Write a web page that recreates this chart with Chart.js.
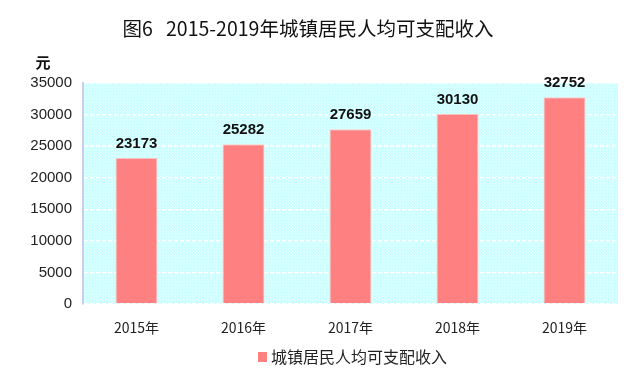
<!DOCTYPE html>
<html>
<head>
<meta charset="utf-8">
<script src="https://cdn.jsdelivr.net/npm/chart.js@4/dist/chart.umd.min.js"></script>
<style>
  html, body { margin: 0; padding: 0; background: #ffffff; }
  #wrap { width: 644px; height: 380px; position: relative; }
</style>
</head>
<body>
<div id="wrap"><canvas id="c" width="644" height="380"></canvas></div>
<script>
const categories = ['2015年', '2016年', '2017年', '2018年', '2019年'];
const incomeValues = [23173, 25282, 27659, 30130, 32752];
const seriesName = '城镇居民人均可支配收入';
const chartTitle = '图6   2015-2019年城镇居民人均可支配收入';
const unitLabel = '元';
const yTicks = [0, 5000, 10000, 15000, 20000, 25000, 30000, 35000];

const CJK = '"Noto Sans CJK SC", "Liberation Sans", sans-serif';
const LAT = '"Liberation Sans", Arial, sans-serif';

function makePattern() {
  const p = document.createElement('canvas');
  p.width = 3; p.height = 3;
  const g = p.getContext('2d');
  g.fillStyle = '#ccffff';
  g.fillRect(0, 0, 3, 3);
  g.fillStyle = '#e8ffff';
  g.fillRect(0, 0, 1, 1);
  g.fillRect(1, 2, 1, 1);
  return document.getElementById('c').getContext('2d').createPattern(p, 'repeat');
}

const decorPlugin = {
  id: 'decor',
  beforeDraw(chart) {
    const { ctx, chartArea: a } = chart;
    ctx.save();
    ctx.fillStyle = makePattern();
    ctx.fillRect(a.left, a.top, a.right - a.left, a.bottom - a.top);
    ctx.restore();
  },
  afterDraw(chart) {
    const { ctx } = chart;
    ctx.save();
    // title
    ctx.fillStyle = '#111';
    ctx.font = '19.5px ' + CJK;
    ctx.textAlign = 'center';
    ctx.textBaseline = 'middle';
    ctx.fillText(chartTitle, 308, 29);
    // unit
    ctx.font = 'bold 15px ' + CJK;
    ctx.fillText(unitLabel, 43, 62);
    // data labels
    const meta = chart.getDatasetMeta(0);
    ctx.font = 'bold 15px ' + LAT;
    ctx.fillStyle = '#111';
    ctx.textBaseline = 'alphabetic';
    meta.data.forEach((bar, i) => {
      ctx.fillText(String(chart.data.datasets[0].data[i]), bar.x, bar.y - 10);
    });
    // legend
    const ds = chart.data.datasets[0];
    ctx.font = '16px ' + CJK;
    const boxW = 9, gap = 4;
    const x0 = 258;
    const cy = 357;
    ctx.fillStyle = ds.backgroundColor;
    ctx.fillRect(x0, cy - 5, boxW, 10);
    ctx.fillStyle = '#222';
    ctx.textAlign = 'left';
    ctx.textBaseline = 'middle';
    ctx.fillText(ds.label, x0 + boxW + gap, cy);
    ctx.restore();
  }
};

new Chart(document.getElementById('c'), {
  type: 'bar',
  data: {
    labels: categories,
    datasets: [{
      label: seriesName,
      data: incomeValues,
      backgroundColor: '#ff8080',
      borderColor: '#ffcccc',
      borderWidth: 1,
      barPercentage: 0.393,
      categoryPercentage: 1.0
    }]
  },
  options: {
    responsive: false,
    animation: false,
    layout: { padding: { left: 0, right: 26, top: 83, bottom: 0 } },
    plugins: {
      legend: { display: false },
      title: { display: false },
      tooltip: { enabled: false }
    },
    scales: {
      x: {
        grid: { display: false, drawTicks: false },
        border: { display: false },
        ticks: { color: '#222', font: { family: CJK, size: 14 }, padding: 15, maxRotation: 0 },
        afterFit(s) { s.height = 76; }
      },
      y: {
        min: 0,
        max: 35000,
        afterBuildTicks(s) { s.ticks = yTicks.map(v => ({ value: v })); },
        grid: { color: '#ffffff', lineWidth: 1.5, drawTicks: false },
        border: { display: true, color: '#ccccf0', width: 2, dash: [4, 2] },
        ticks: {
          color: '#222', font: { family: LAT, size: 15 }, padding: 11,
          callback: (v) => String(v)
        },
        afterFit(s) { s.width = 83; }
      }
    }
  },
  plugins: [decorPlugin]
});
</script>
</body>
</html>
